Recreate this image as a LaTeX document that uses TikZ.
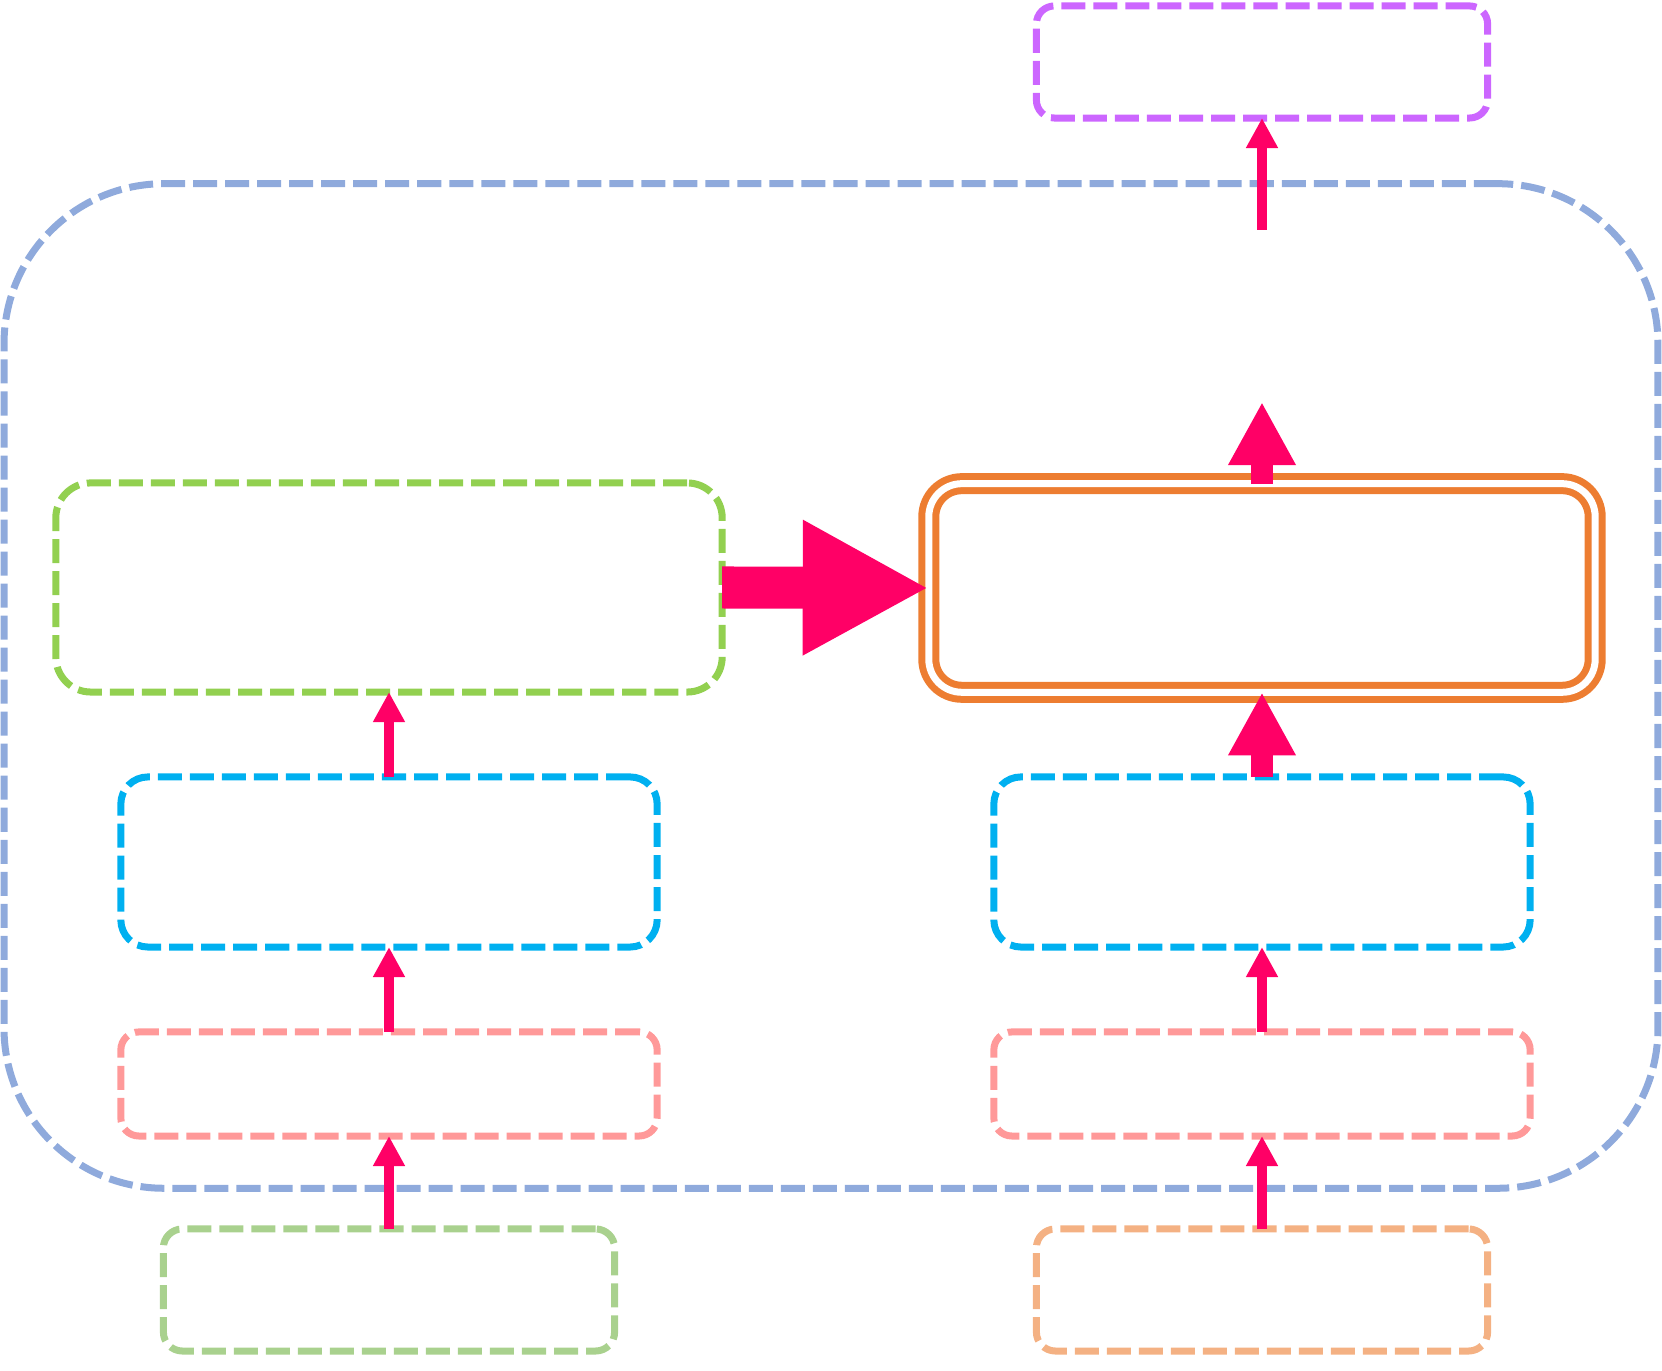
\documentclass[tikz,border=0pt]{standalone}
\usetikzlibrary{arrows.meta}
\definecolor{framecol}{HTML}{8FAADC}
\definecolor{outcol}{HTML}{CC66FF}
\definecolor{fusecol}{HTML}{92D050}
\definecolor{corecol}{HTML}{ED7D31}
\definecolor{enccol}{HTML}{00B0F0}
\definecolor{embcol}{HTML}{FF9999}
\definecolor{srcAcol}{HTML}{A9D18E}
\definecolor{srcBcol}{HTML}{F4B183}
\definecolor{arrowcol}{HTML}{FF0066}
\begin{document}
\begin{tikzpicture}[x=0.01cm, y=-0.01cm,
        box/.style={draw=#1, line width=0.07cm, dash pattern=on 0.24cm off 0.08cm,
            rounded corners=0.18cm, outer sep=0pt, inner sep=0pt},
        link/.style={draw=arrowcol, line width=#1, -{Triangle[length=0pt 3, width=0pt 3]}},
        link/.default=0.1cm]
        \useasboundingbox (0,0) rectangle (1662,1371);
        \node[box=framecol, rounded corners=1.6cm, minimum width=16.53cm, minimum height=10.04cm] (frame) at (831,686) {};
        \node[box=outcol, minimum width=4.51cm, minimum height=1.12cm] (outbox) at (1262,62) {};
        \node[box=fusecol, rounded corners=0.35cm, minimum width=6.66cm, minimum height=2.09cm] (fuse) at (389,587.5) {};
        \node[draw=corecol, double=white, double distance=0.07cm, line width=0.07cm, rounded corners=0.33cm,
            outer sep=0pt, inner sep=0pt, minimum width=6.66cm, minimum height=2.085cm] (core) at (1262,588) {};
        \foreach \Side/\X/\Col in {L/389/srcAcol, R/1262/srcBcol}{
            \node[box=enccol, rounded corners=0.27cm, minimum width=5.36cm, minimum height=1.7cm] (enc\Side) at (\X,862) {};
            \node[box=embcol, minimum width=5.36cm, minimum height=1.04cm] (emb\Side) at (\X,1084) {};
            \node[box=\Col, rounded corners=0.19cm, minimum width=4.51cm, minimum height=1.22cm] (src\Side) at (\X,1290) {};
            \draw[link] (src\Side.north) -- (emb\Side.south);
            \draw[link] (emb\Side.north) -- (enc\Side.south);
        }
        \coordinate (coreout) at (1262,402);
        \coordinate (outin) at (1262,230);
        \draw[link] (encL.north) -- (fuse.south);
        \draw[link=0.21cm] (encR.north) -- (core.south);
        \draw[link=0.42cm] (fuse.east) -- (core.west);
        \draw[link=0.21cm] (core.north) -- (coreout);
        \draw[link] (outin) -- (outbox.south);
    \end{tikzpicture}
\end{document}
